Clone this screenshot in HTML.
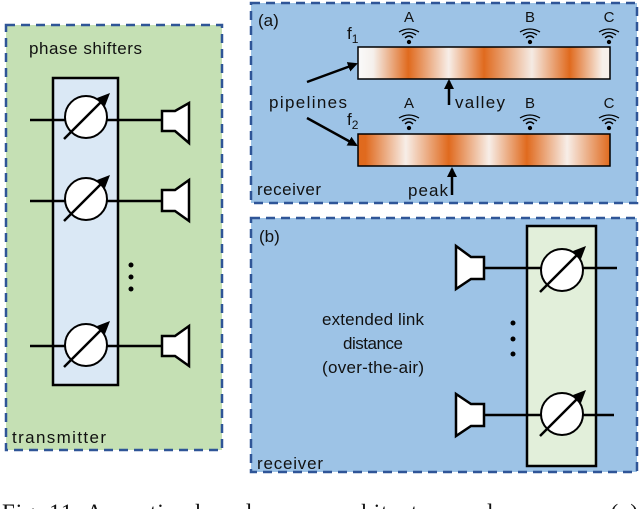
<!DOCTYPE html>
<html><head><style>
body{margin:0;background:#fff;width:640px;height:509px;overflow:hidden}
text{font-family:"Liberation Sans",sans-serif;fill:#111}
</style></head><body>
<svg width="640" height="509" viewBox="0 0 640 509" xmlns="http://www.w3.org/2000/svg">
<defs>
<linearGradient id="g1" x1="0" x2="1" y1="0" y2="0">
<stop offset="0" stop-color="#fafafa"/><stop offset="0.06" stop-color="#f5f0ec"/>
<stop offset="0.2" stop-color="#e06a1e"/><stop offset="0.36" stop-color="#f7eee8"/>
<stop offset="0.5" stop-color="#e06a1e"/><stop offset="0.69" stop-color="#f5ebe4"/>
<stop offset="0.84" stop-color="#e06a1e"/><stop offset="0.97" stop-color="#f7f0ea"/><stop offset="1" stop-color="#f7f0ea"/>
</linearGradient>
<linearGradient id="g2" x1="0" x2="1" y1="0" y2="0">
<stop offset="0" stop-color="#e06a1e"/><stop offset="0.03" stop-color="#e06a1e"/>
<stop offset="0.19" stop-color="#f7eee8"/><stop offset="0.36" stop-color="#e06a1e"/>
<stop offset="0.52" stop-color="#f7eee8"/><stop offset="0.67" stop-color="#e06a1e"/>
<stop offset="0.83" stop-color="#f7eee8"/><stop offset="1" stop-color="#e06a1e"/>
</linearGradient>
<marker id="ah" markerWidth="10" markerHeight="10" refX="8" refY="5" orient="auto" markerUnits="userSpaceOnUse"><path d="M0,0 L10,5 L0,10 Z" fill="#000"/></marker>
<g id="ps"><circle cx="0" cy="0" r="21" fill="#fff" stroke="#000" stroke-width="2"/>
<line x1="-22" y1="22" x2="20" y2="-20" stroke="#000" stroke-width="2.5"/>
<path d="M24,-24 L11,-19 L19,-11 Z" fill="#000"/></g>
<g id="wifi" fill="none" stroke="#000" stroke-width="1.3"><circle cx="0" cy="0" r="1.5" fill="#000"/>
<path d="M-4,-4 Q0,-8 4,-4 M-7,-7 Q0,-12 7,-7 M-10,-10 Q0,-16 10,-10"/></g>
</defs>
<!-- left green -->
<rect x="6" y="25" width="216" height="425" fill="#c5e0b4" stroke="#2f5597" stroke-width="2.5" stroke-dasharray="9,6"/>
<text x="29" y="54" font-size="17" textLength="113">phase shifters</text>
<rect x="53" y="78" width="65" height="307" fill="#dae8f5" stroke="#000" stroke-width="2.5"/>
<g stroke="#000" stroke-width="2.5">
<line x1="30" y1="120" x2="162" y2="120"/><line x1="30" y1="201" x2="162" y2="201"/><line x1="30" y1="346" x2="162" y2="346"/></g>
<use href="#ps" x="86" y="117"/><use href="#ps" x="86" y="199"/><use href="#ps" x="86" y="345"/>
<g fill="#fff" stroke="#000" stroke-width="2.5">
<path d="M162,111 H175 L189,103 V143 L175,131 H162 Z"/>
<path d="M162,190 H175 L189,180 V221 L175,211 H162 Z"/>
<path d="M162,336 H175 L189,326 V366 L175,356 H162 Z"/></g>
<circle cx="131" cy="265" r="2.5"/><circle cx="131" cy="277" r="2.5"/><circle cx="131" cy="289" r="2.5"/>
<text x="12" y="443" font-size="17" textLength="94">transmitter</text>
<!-- top right -->
<rect x="251" y="3" width="386" height="200" fill="#9dc3e6" stroke="#2f5597" stroke-width="2.5" stroke-dasharray="9,6"/>
<text x="258" y="26" font-size="17">(a)</text>
<text x="347" y="39" font-size="17">f<tspan font-size="12" dy="4">1</tspan></text>
<text x="347" y="125" font-size="17">f<tspan font-size="12" dy="4">2</tspan></text>
<rect x="358" y="47" width="252" height="32" fill="url(#g1)" stroke="#000" stroke-width="1.5"/>
<rect x="358" y="134" width="252" height="32" fill="url(#g2)" stroke="#000" stroke-width="1.5"/>
<g font-size="15" text-anchor="middle"><text x="409" y="22">A</text><text x="530" y="22">B</text><text x="609" y="22">C</text>
<text x="409" y="108">A</text><text x="530" y="108">B</text><text x="609" y="108">C</text></g>
<use href="#wifi" x="409" y="42"/><use href="#wifi" x="530" y="42"/><use href="#wifi" x="609" y="42"/>
<use href="#wifi" x="409" y="128"/><use href="#wifi" x="530" y="128"/><use href="#wifi" x="609" y="128"/>
<text x="269" y="108" font-size="17" textLength="78">pipelines</text>
<g stroke="#000" stroke-width="2.5"><line x1="307" y1="82" x2="356" y2="64" marker-end="url(#ah)"/>
<line x1="307" y1="118" x2="356" y2="145" marker-end="url(#ah)"/>
<line x1="449" y1="105" x2="449" y2="81" marker-end="url(#ah)"/>
<line x1="452" y1="195" x2="452" y2="169" marker-end="url(#ah)"/></g>
<text x="455" y="108" font-size="17" textLength="50">valley</text>
<text x="408" y="196" font-size="17" textLength="40">peak</text>
<text x="257" y="195" font-size="17" textLength="64">receiver</text>
<!-- bottom right -->
<rect x="251" y="218" width="386" height="254" fill="#9dc3e6" stroke="#2f5597" stroke-width="2.5" stroke-dasharray="9,6"/>
<text x="259" y="242" font-size="17">(b)</text>
<rect x="527" y="226" width="69" height="240" fill="#e2efda" stroke="#000" stroke-width="2.5"/>
<g stroke="#000" stroke-width="2.5"><line x1="484" y1="268" x2="617" y2="268"/><line x1="484" y1="415" x2="614" y2="415"/></g>
<use href="#ps" x="562" y="270"/><use href="#ps" x="562" y="414"/>
<g fill="#fff" stroke="#000" stroke-width="2.5">
<path d="M484,257 H471 L456,246 V289 L471,279 H484 Z"/>
<path d="M484,404 H471 L456,394 V436 L471,426 H484 Z"/></g>
<circle cx="513" cy="323" r="2.5"/><circle cx="513" cy="339" r="2.5"/><circle cx="513" cy="354" r="2.5"/>
<g font-size="17" text-anchor="middle"><text x="373" y="325" textLength="102">extended link</text><text x="373" y="349" textLength="60">distance</text><text x="373" y="373" textLength="102">(over-the-air)</text></g>
<text x="257" y="469" font-size="17" textLength="66">receiver</text>
<text x="2" y="520" font-size="23" textLength="636" style="font-family:'Liberation Serif',serif">Fig. 11: Acoustic phased-arrays architecture and use-cases: (a)</text>
</svg>
</body></html>
